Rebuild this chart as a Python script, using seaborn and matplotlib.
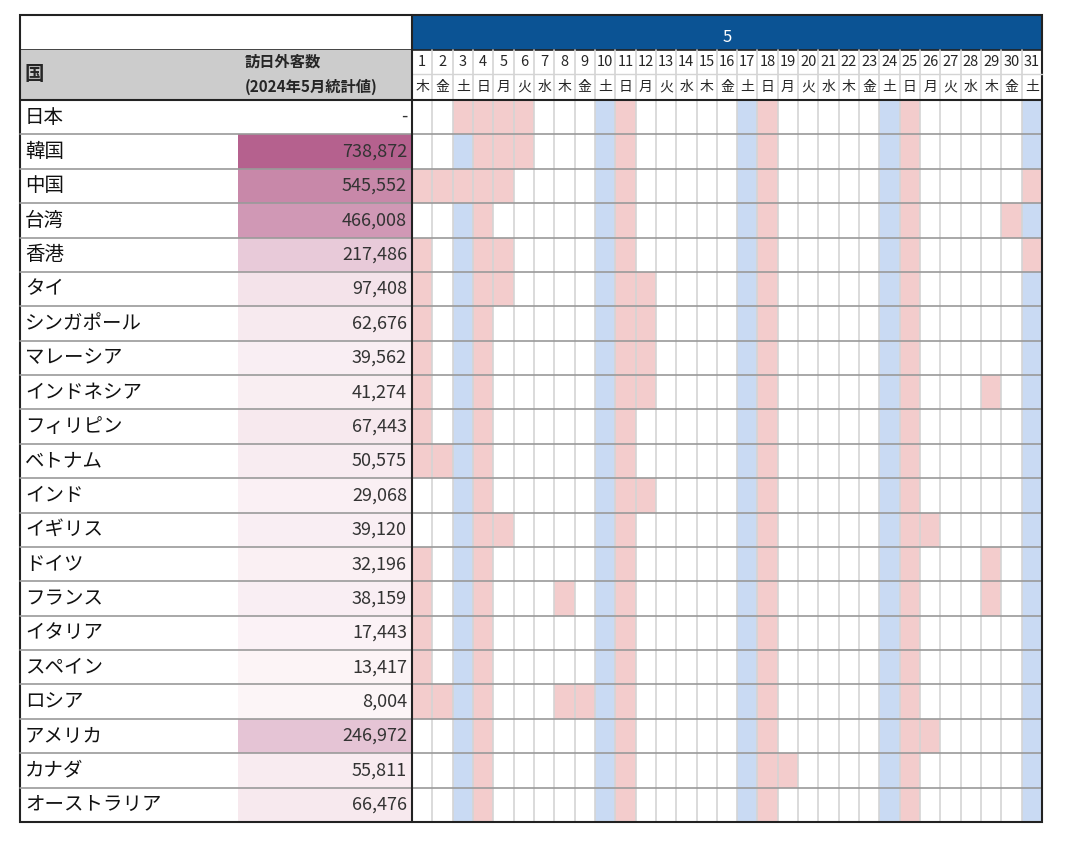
import numpy as np
import pandas as pd
import seaborn as sns
import matplotlib
matplotlib.use("Agg")
import matplotlib.pyplot as plt
from matplotlib.colors import ListedColormap, LinearSegmentedColormap
from matplotlib.patches import Rectangle

sns.set_theme(style="white")
plt.rcParams['font.family'] = ['Noto Sans CJK JP', 'DejaVu Sans']

countries = ["日本", "韓国", "中国", "台湾", "香港", "タイ", "シンガポール", "マレーシア",
             "インドネシア", "フィリピン", "ベトナム", "インド", "イギリス", "ドイツ", "フランス",
             "イタリア", "スペイン", "ロシア", "アメリカ", "カナダ", "オーストラリア"]
visitors = [np.nan, 738872, 545552, 466008, 217486, 97408, 62676, 39562, 41274, 67443,
            50575, 29068, 39120, 32196, 38159, 17443, 13417, 8004, 246972, 55811, 66476]
days = list(range(1, 32))
weekdays = ["木", "金", "土", "日", "月", "火", "水"]
day_labels = [weekdays[(d - 1) % 7] for d in days]
saturdays = [3, 10, 17, 24, 31]
sundays = [4, 11, 18, 25]
holidays = [
    [3, 5, 6], [5, 6], [1, 2, 3, 5, 31], [30], [1, 5, 31], [1, 5, 12], [1, 12], [1, 12],
    [1, 12, 29], [1], [1, 2], [12], [5, 26], [1, 29], [1, 8, 29], [1], [1], [1, 2, 8, 9],
    [26], [19], [],
]
month_label = "5"

W, H = 1067, 844
fig = plt.figure(figsize=(W / 100, H / 100), dpi=100)

def axrect(x0, y0, x1, y1):
    return [x0 / W, 1 - y1 / H, (x1 - x0) / W, (y1 - y0) / H]

n = len(countries)
top, bot = 100, 822
gx0, gx1 = 412, 1042

# day grid
grid = np.zeros((n, len(days)))
for i in range(n):
    for d in days:
        if d in saturdays:
            grid[i, d - 1] = 1
        if d in sundays or d in holidays[i]:
            grid[i, d - 1] = 2
axg = fig.add_axes(axrect(gx0, top, gx1, bot))
sns.heatmap(pd.DataFrame(grid, index=countries, columns=days), ax=axg, cbar=False,
            cmap=ListedColormap(["white", "#c9daf3", "#f3cccc"]), vmin=-0.5, vmax=2.5)
for j in range(1, len(days)):
    axg.axvline(j, color="#d4d4d4", lw=1.2)
for i in range(1, n):
    axg.axhline(i, color="#9a9a9a", lw=1.2)
axg.set_xticks([]); axg.set_yticks([]); axg.set_xlabel(""); axg.set_ylabel("")

# value column
vx0, vx1 = 238, 412
axv = fig.add_axes(axrect(vx0, top, vx1, bot))
cmap_v = LinearSegmentedColormap.from_list("v", ["#fdf6f8", "#b5618e"])
sns.heatmap(pd.DataFrame({"v": visitors}, index=countries), ax=axv, cbar=False,
            cmap=cmap_v, vmin=0, vmax=738872)
axv.set_xticks([]); axv.set_yticks([]); axv.set_xlabel(""); axv.set_ylabel("")

# overlay
ax = fig.add_axes([0, 0, 1, 1])
ax.set_xlim(0, W); ax.set_ylim(H, 0); ax.axis("off")
ax.patch.set_alpha(0)
rh = (bot - top) / n
for i, (c, v) in enumerate(zip(countries, visitors)):
    yc = top + (i + 0.5) * rh
    ax.text(25, yc, c, fontsize=14, va="center", ha="left", color="#111111")
    s = "-" if np.isnan(v) else f"{int(v):,}"
    ax.text(407, yc, s, fontsize=13, va="center", ha="right", color="#333333")
    if i > 0:
        ax.plot([20, 412], [top + i * rh, top + i * rh], color="#9a9a9a", lw=1.2)

# headers
ax.add_patch(Rectangle((20, 15), 392, 35, facecolor="white", edgecolor="#222222", lw=1.2))
ax.add_patch(Rectangle((412, 15), 630, 35, facecolor="#0b5394", edgecolor="#222222", lw=1.2))
ax.text(727, 37, month_label, color="white", fontsize=12, ha="center", va="center")
ax.add_patch(Rectangle((20, 50), 392, 50, facecolor="#cccccc", edgecolor="none"))
ax.text(25, 75, "国", fontsize=14, fontweight="bold", va="center")
ax.text(245, 62, "訪日外客数", fontsize=11, fontweight="bold", va="center")
ax.text(245, 87, "(2024年5月統計値)", fontsize=11, fontweight="bold", va="center")
cw = (gx1 - gx0) / len(days)
for j, (d, wd) in enumerate(zip(days, day_labels)):
    xc = gx0 + (j + 0.5) * cw
    ax.text(xc, 62, str(d), fontsize=10.5, ha="center", va="center")
    ax.text(xc, 87, wd, fontsize=10, ha="center", va="center")
    if j > 0:
        ax.plot([gx0 + j * cw] * 2, [50, 100], color="#d4d4d4", lw=1.2)
ax.plot([gx0, gx1], [74, 74], color="#d4d4d4", lw=1)
ax.plot([20, 1042], [100, 100], color="#222222", lw=1.5)
ax.plot([412, 412], [15, 822], color="#222222", lw=1.5)
ax.add_patch(Rectangle((20, 15), 1022, 807, facecolor="none", edgecolor="#222222", lw=1.5))

fig.savefig("out.png", dpi=100, facecolor="white")
